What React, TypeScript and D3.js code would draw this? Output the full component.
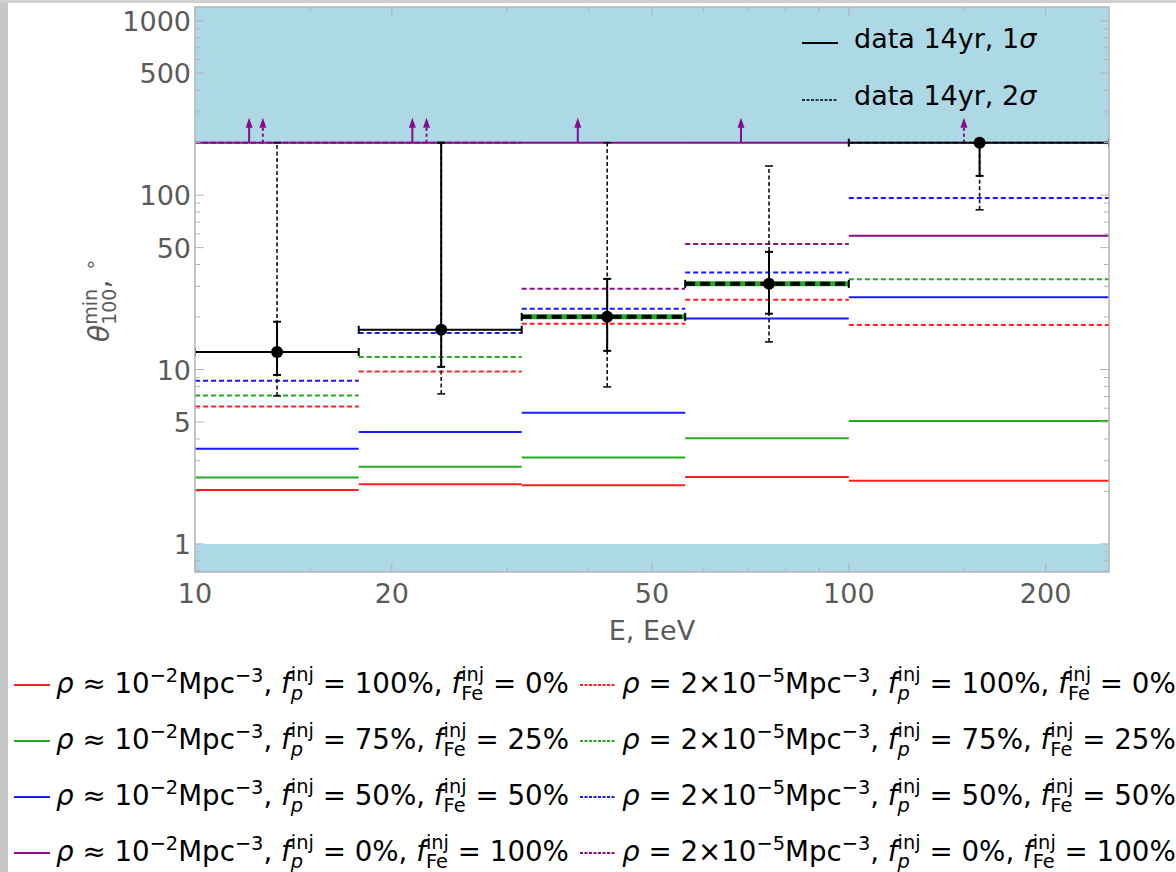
import { useRef, useEffect } from 'react';
import * as d3 from 'd3';

// energy bins (EeV)
const binEdges = [10, 17.8, 31.6, 56.2, 100, 250];

// data points, 14yr
const dataE = [13.35, 23.8, 42.7, 75.5, 158.5];
const dataTheta = [12.6, 16.9, 20.05, 31.0, 200];
const err1Lo = [9.31, 10.36, 12.8, 20.9, 129];
const err1Hi = [18.8, 200, 33.1, 47.3, 200];
const err2Lo = [7.06, 7.25, 7.95, 14.4, 82.4];
const err2Hi = [200, 200, 200, 147, 200];
// bins where the data bar overlaps the green dashed model
const overlapBins = [2, 3];

// models, rho ~ 1e-2 Mpc^-3 (solid)
const solidP100 = [2.04, 2.2, 2.17, 2.42, 2.3];
const solidP75 = [2.4, 2.77, 3.13, 4.04, 5.06];
const solidP50 = [3.51, 4.39, 5.66, 19.6, 26.0];
const solidP0 = [200, 200, 200, 200, 58.5];
// models, rho = 2e-5 Mpc^-3 (dashed)
const dashP100 = [6.13, 9.73, 18.3, 25.1, 18.0];
const dashP75 = [7.1, 11.8, 20.05, 31.0, 33.0];
const dashP50 = [8.61, 16.2, 22.3, 36.0, 96.2];
const dashP0 = [200, 200, 29.1, 52.4, 200];

// lower-limit arrows (pure Fe beyond the 200 deg cap)
const arrowSolidE = [12.1, 21.5, 38.5, 68.4];
const arrowDashE = [12.7, 22.6, 150];
const limitTheta = 200;

const xMajor = [10, 20, 50, 100, 200];
const xMinor = [15, 30, 40, 60, 70, 80, 90, 150];
const yMajor = [1, 5, 10, 50, 100, 500, 1000];

const RED = '#ff1f1f';
const GREEN = '#22aa22';
const BLUE = '#1a1aff';
const PURPLE = '#8a0a8a';
const BAND = '#add8e6';

const compositions = [
  { p: '100%', fe: '0%', color: RED, solid: solidP100, dash: dashP100 },
  { p: '75%', fe: '25%', color: GREEN, solid: solidP75, dash: dashP75 },
  { p: '50%', fe: '50%', color: BLUE, solid: solidP50, dash: dashP50 },
  { p: '0%', fe: '100%', color: PURPLE, solid: solidP0, dash: dashP0 },
];

type Seg = { t: string; s?: number; dy?: number; it?: boolean; stack?: boolean };

function rich(g: any, x: number, y: number, segs: Seg[], size: number, fill: string) {
  let cx = x;
  let prevStart = x;
  let prevW = 0;
  segs.forEach((seg) => {
    const fs = size * (seg.s ?? 1);
    const sx = seg.stack ? prevStart : cx;
    const t = g.append('text')
      .attr('x', sx)
      .attr('y', y - (seg.dy ?? 0) * size)
      .attr('font-size', fs)
      .attr('font-style', seg.it ? 'italic' : 'normal')
      .attr('fill', fill)
      .style('white-space', 'pre')
      .text(seg.t);
    const w = (t.node() as SVGTextElement).getComputedTextLength();
    cx = seg.stack ? prevStart + Math.max(prevW, w) : sx + w;
    prevStart = sx;
    prevW = w;
  });
}

const Chart = () => {
  const svgRef = useRef<SVGSVGElement>(null);

  useEffect(() => {
    if (!svgRef.current) return;
    const svg = d3.select(svgRef.current);
    svg.selectAll('*').remove();

    const W = 1176, H = 872;
    const m = { left: 195, right: 1109, top: 7, bottom: 572 };

    const x = d3.scaleLog().domain([10, 250]).range([m.left, m.right]);
    const y = d3.scaleLog().domain([0.69, 1200]).range([m.bottom, m.top]);

    svg.attr('width', W).attr('height', H)
      .attr('font-family', '"DejaVu Sans", sans-serif');

    svg.append('rect').attr('width', W).attr('height', H).attr('fill', '#fff');
    // scanned-page frame
    svg.append('rect').attr('x', 0).attr('y', 0).attr('width', 8).attr('height', H).attr('fill', '#c6c6c6');
    svg.append('rect').attr('x', 0).attr('y', 0).attr('width', W).attr('height', 3).attr('fill', '#d0d0d0');

    svg.append('defs').append('clipPath').attr('id', 'plot-clip')
      .append('rect')
      .attr('x', m.left).attr('y', m.top)
      .attr('width', m.right - m.left).attr('height', m.bottom - m.top);

    const plot = svg.append('g').attr('clip-path', 'url(#plot-clip)');

    // excluded regions
    plot.append('rect')
      .attr('x', m.left).attr('y', m.top)
      .attr('width', m.right - m.left).attr('height', y(limitTheta) - m.top)
      .attr('fill', BAND);
    plot.append('rect')
      .attr('x', m.left).attr('y', y(1))
      .attr('width', m.right - m.left).attr('height', m.bottom - y(1))
      .attr('fill', BAND);

    // model step lines
    compositions.forEach((c) => {
      [c.dash, c.solid].forEach((vals, k) => {
        vals.forEach((v, i) => {
          plot.append('line')
            .attr('x1', x(binEdges[i])).attr('x2', x(binEdges[i + 1]))
            .attr('y1', y(v)).attr('y2', y(v))
            .attr('stroke', c.color)
            .attr('stroke-width', 2)
            .attr('stroke-dasharray', k === 0 ? '5,3' : null);
        });
      });
    });

    // lower-limit arrows
    const arrow = (e: number, dashed: boolean) => {
      const ax = x(e);
      const y0 = y(limitTheta);
      plot.append('line')
        .attr('x1', ax).attr('x2', ax)
        .attr('y1', y0).attr('y2', y0 - 17)
        .attr('stroke', PURPLE).attr('stroke-width', 2)
        .attr('stroke-dasharray', dashed ? '3,3' : null);
      plot.append('path')
        .attr('d', `M${ax - 3.5},${y0 - 15} L${ax + 3.5},${y0 - 15} L${ax},${y0 - 25} Z`)
        .attr('fill', PURPLE);
    };
    arrowSolidE.forEach((e) => arrow(e, false));
    arrowDashE.forEach((e) => arrow(e, true));

    // data: error bars
    const cap = 4;
    dataE.forEach((e, i) => {
      const cx = x(e);
      const cy = y(dataTheta[i]);
      // 2 sigma
      plot.append('line')
        .attr('x1', cx).attr('x2', cx)
        .attr('y1', y(err2Lo[i])).attr('y2', y(err2Hi[i]))
        .attr('stroke', '#111').attr('stroke-width', 1.6)
        .attr('stroke-dasharray', '4,2.5');
      [err2Lo[i], err2Hi[i]].forEach((v) => {
        plot.append('line')
          .attr('x1', cx - cap).attr('x2', cx + cap)
          .attr('y1', y(v)).attr('y2', y(v))
          .attr('stroke', '#111').attr('stroke-width', 1.6);
      });
      // 1 sigma
      plot.append('line')
        .attr('x1', cx).attr('x2', cx)
        .attr('y1', y(err1Lo[i])).attr('y2', y(err1Hi[i]))
        .attr('stroke', '#000').attr('stroke-width', 2);
      [err1Lo[i], err1Hi[i]].forEach((v) => {
        plot.append('line')
          .attr('x1', cx - cap).attr('x2', cx + cap)
          .attr('y1', y(v)).attr('y2', y(v))
          .attr('stroke', '#000').attr('stroke-width', 2);
      });
      // energy bin bar
      const bx0 = x(binEdges[i]);
      const bx1 = x(binEdges[i + 1]);
      if (overlapBins.includes(i)) {
        plot.append('line')
          .attr('x1', bx0).attr('x2', bx1).attr('y1', cy).attr('y2', cy)
          .attr('stroke', GREEN).attr('stroke-width', 5);
        plot.append('line')
          .attr('x1', bx0).attr('x2', bx1).attr('y1', cy).attr('y2', cy)
          .attr('stroke', '#000').attr('stroke-width', 4)
          .attr('stroke-dasharray', '10,5');
      } else {
        plot.append('line')
          .attr('x1', bx0).attr('x2', bx1).attr('y1', cy).attr('y2', cy)
          .attr('stroke', '#000').attr('stroke-width', 2);
      }
      [bx0, bx1].forEach((bx) => {
        plot.append('line')
          .attr('x1', bx).attr('x2', bx).attr('y1', cy - cap).attr('y2', cy + cap)
          .attr('stroke', '#000').attr('stroke-width', 2);
      });
      plot.append('circle')
        .attr('cx', cx).attr('cy', cy).attr('r', 6)
        .attr('fill', '#000');
    });

    // spines and ticks (inward, all sides)
    const axisColor = '#b4b4b4';
    svg.append('rect')
      .attr('x', m.left).attr('y', m.top)
      .attr('width', m.right - m.left).attr('height', m.bottom - m.top)
      .attr('fill', 'none').attr('stroke', axisColor).attr('stroke-width', 1.5);

    const ticks = svg.append('g').attr('stroke', axisColor).attr('stroke-width', 1);
    const xt = [...xMajor.map((v) => [v, 9]), ...xMinor.map((v) => [v, 5])];
    xt.forEach(([v, len]) => {
      const px = x(v);
      ticks.append('line').attr('x1', px).attr('x2', px).attr('y1', m.bottom).attr('y2', m.bottom - len);
      ticks.append('line').attr('x1', px).attr('x2', px).attr('y1', m.top).attr('y2', m.top + len);
    });
    const [y0, y1] = y.domain();
    const yt: number[][] = [];
    for (let k = -1; k <= 3; k++) {
      for (let d = 1; d <= 9; d++) {
        const v = d * Math.pow(10, k);
        if (v < y0 || v > y1) continue;
        yt.push([v, yMajor.includes(v) ? 9 : 5]);
      }
    }
    yt.forEach(([v, len]) => {
      const py = y(v);
      ticks.append('line').attr('x1', m.left).attr('x2', m.left + len).attr('y1', py).attr('y2', py);
      ticks.append('line').attr('x1', m.right).attr('x2', m.right - len).attr('y1', py).attr('y2', py);
    });

    // tick labels
    const labColor = '#5a5a5a';
    svg.append('g').selectAll('text').data(xMajor).enter().append('text')
      .attr('x', (d) => x(d)).attr('y', 603)
      .attr('text-anchor', 'middle').attr('font-size', 27).attr('fill', labColor)
      .text((d) => d);
    svg.append('g').selectAll('text').data(yMajor).enter().append('text')
      .attr('x', 191).attr('y', (d) => y(d) + 10)
      .attr('text-anchor', 'end').attr('font-size', 27).attr('fill', labColor)
      .text((d) => d);

    // axis titles
    svg.append('text')
      .attr('x', 652).attr('y', 640)
      .attr('text-anchor', 'middle').attr('font-size', 27).attr('fill', labColor)
      .text('E, EeV');

    const yl = svg.append('g').attr('transform', 'translate(109,342) rotate(-90)');
    rich(yl, 0, 0, [
      { t: 'θ', it: true },
      { t: 'min', s: 0.68, dy: 0.42 },
      { t: '100', s: 0.68, dy: -0.25, stack: true },
      { t: ', ' },
      { t: '∘', s: 0.7, dy: 0.42 },
    ], 28, labColor);

    // data legend (top right)
    const dl = svg.append('g');
    [
      { dash: null, sig: '1', yb: 48 },
      { dash: '3,1.5', sig: '2', yb: 105 },
    ].forEach((r) => {
      dl.append('line')
        .attr('x1', 802).attr('x2', 838).attr('y1', r.yb - 5).attr('y2', r.yb - 5)
        .attr('stroke', '#000').attr('stroke-width', r.dash ? 1.5 : 2)
        .attr('stroke-dasharray', r.dash);
      rich(dl, 854, r.yb, [
        { t: `data 14yr, ${r.sig}` },
        { t: 'σ', it: true },
      ], 27, '#000');
    });

    // model legend (bottom)
    const ml = svg.append('g');
    const rowY = [693, 749, 805, 861];
    const fs = 27.7;
    compositions.forEach((c, i) => {
      const yb = rowY[i];
      const tail: Seg[] = [
        { t: 'Mpc' },
        { t: '−3', s: 0.7, dy: 0.38 },
        { t: ', ' },
        { t: 'f', it: true },
        { t: 'inj', s: 0.7, dy: 0.42 },
        { t: 'p', s: 0.7, dy: -0.27, it: true, stack: true },
        { t: ` = ${c.p}, ` },
        { t: 'f', it: true },
        { t: 'inj', s: 0.7, dy: 0.42 },
        { t: 'Fe', s: 0.7, dy: -0.27, stack: true },
        { t: ` = ${c.fe}` },
      ];
      ml.append('line')
        .attr('x1', 14).attr('x2', 50).attr('y1', yb - 8).attr('y2', yb - 8)
        .attr('stroke', c.color).attr('stroke-width', 2);
      rich(ml, 56, yb, [
        { t: 'ρ', it: true },
        { t: ' ≈ 10' },
        { t: '−2', s: 0.7, dy: 0.38 },
        ...tail,
      ], fs, '#000');
      ml.append('line')
        .attr('x1', 580).attr('x2', 616).attr('y1', yb - 8).attr('y2', yb - 8)
        .attr('stroke', c.color).attr('stroke-width', 2)
        .attr('stroke-dasharray', '3,1.5');
      rich(ml, 622, yb, [
        { t: 'ρ', it: true },
        { t: ' = 2×10' },
        { t: '−5', s: 0.7, dy: 0.38 },
        ...tail,
      ], fs, '#000');
    });
  }, []);

  return <svg ref={svgRef} style={{ display: 'block' }} />;
};

export default function App() {
  return (
    <div>
      <style>{'body{margin:0;background:#fff}'}</style>
      <Chart />
    </div>
  );
}
